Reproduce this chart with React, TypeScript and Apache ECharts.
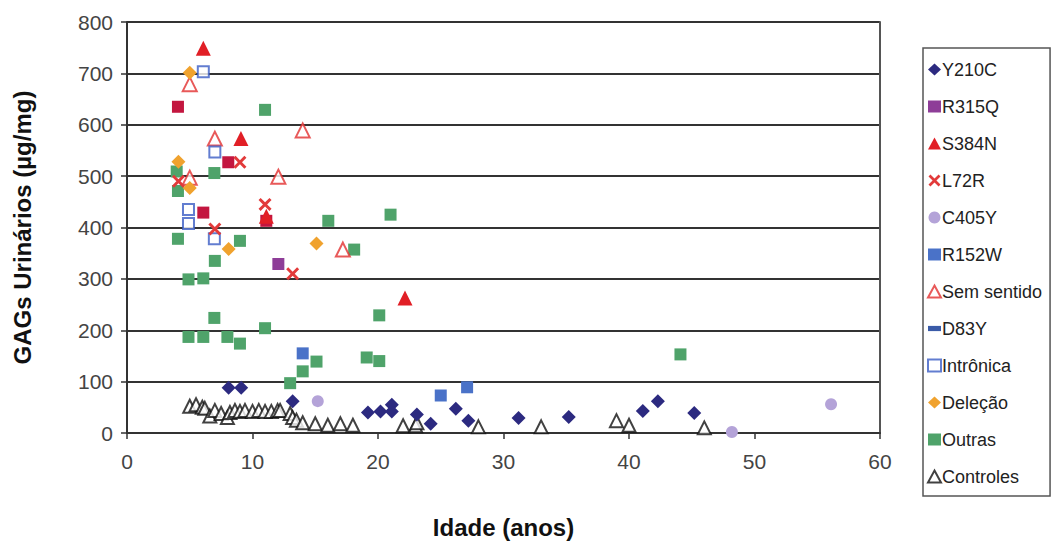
import React, { useEffect, useRef } from "react";
import * as echarts from "echarts";

const xTicks = [0, 10, 20, 30, 40, 50, 60];
const yTicks = [0, 100, 200, 300, 400, 500, 600, 700, 800];

const y210c = [[8.1, 88], [9.1, 88], [13.2, 62], [19.2, 40], [20.2, 42], [21.1, 55], [21.1, 42], [23.1, 36], [24.2, 18], [26.2, 47], [27.2, 24], [31.2, 29], [35.2, 31], [41.1, 43], [42.3, 62], [45.2, 39]];
const r315q = [[12.06, 329]];
const r315qDark = [[4.06, 635], [8.07, 527], [6.08, 429], [11.1, 413]];
const s384n = [[6.08, 749], [9.08, 573], [22.15, 263], [11.1, 422]];
const l72r = [[9.0, 527], [4.1, 490], [11.0, 445], [7.0, 397], [13.2, 310]];
const c405y = [[15.2, 62], [48.2, 2], [56.1, 56]];
const r152w = [[14.0, 155], [25.0, 73], [27.1, 89]];
const semSentido = [[5.0, 679], [14.0, 589], [7.0, 573], [12.06, 499], [5.0, 497], [17.2, 357]];
const d83y: number[][] = [];
const intronica = [[6.08, 703], [7.0, 547], [4.9, 435], [4.9, 408], [6.96, 378]];
const delecao = [[5.0, 701], [4.1, 528], [5.0, 477], [8.1, 358], [15.1, 369]];
const outras = [[11.0, 629], [3.96, 509], [6.96, 506], [4.06, 471], [4.06, 378], [9.0, 374], [16.04, 413], [18.1, 357], [21.0, 425], [7.0, 335], [4.9, 299], [6.08, 301], [6.96, 224], [4.9, 187], [6.08, 187], [8.0, 187], [9.0, 174], [11.0, 204], [13.0, 97], [14.0, 120], [15.1, 139], [19.1, 147], [20.1, 140], [20.1, 229], [44.1, 153]];
const controles = [[5, 52], [5.5, 55], [6, 50], [6.2, 48], [6.6, 33], [7, 44], [7.5, 38], [8, 30], [8.2, 40], [8.6, 44], [9, 42], [9.4, 44], [10, 42], [10.5, 44], [11, 42], [11.5, 42], [12, 44], [12.2, 44], [13, 38], [13.2, 30], [13.5, 25], [14, 20], [15, 18], [16, 15], [17, 18], [18, 15], [22, 14], [23, 14], [23.1, 20], [28, 12], [33, 12], [39, 24], [40, 15], [46, 10]];

const legendNames = ["Y210C", "R315Q", "S384N", "L72R", "C405Y", "R152W", "Sem sentido", "D83Y", "Intrônica", "Deleção", "Outras", "Controles"];

const CROSS = "path://M0,1.6L1.6,0L5,3.4L8.4,0L10,1.6L6.6,5L10,8.4L8.4,10L5,6.6L1.6,10L0,8.4L3.4,5Z";
const DASH = "path://M0,0H10V4H0Z";

export default function App() {
  const ref = useRef<HTMLDivElement>(null);
  useEffect(() => {
    if (!ref.current) return;
    const chart = echarts.init(ref.current, null, { renderer: "svg" });
    const mk = (name: string, data: number[][], symbol: string, size: any, color: string, hollow = false, z = 2) => ({
      name,
      type: "scatter",
      data,
      symbol,
      symbolSize: size,
      z,
      itemStyle: hollow
        ? { color: "#ffffff", borderColor: color, borderWidth: 2 }
        : { color, opacity: 1 },
    });
    chart.setOption({
      animation: false,
      backgroundColor: "#ffffff",
      textStyle: { fontFamily: "Liberation Sans, Arial, sans-serif" },
      grid: { left: 127, top: 22, right: 183, bottom: 106, containLabel: false },
      legend: {
        data: legendNames,
        orient: "vertical",
        left: 923,
        top: 48,
        padding: [12, 8, 10, 4],
        itemGap: 18,
        itemWidth: 13,
        itemHeight: 12,
        borderColor: "#555555",
        borderWidth: 1.5,
        textStyle: { fontSize: 18, color: "#222222", lineHeight: 19, padding: [0, 0, 0, -4] },
      },
      xAxis: {
        type: "value",
        min: 0,
        max: 60,
        interval: 10,
        name: "Idade (anos)",
        nameLocation: "middle",
        nameGap: 82,
        nameTextStyle: { fontSize: 24, fontWeight: "bold", color: "#111111" },
        axisLine: { show: true, onZero: false, lineStyle: { color: "#333333", width: 2 } },
        axisTick: { show: true, length: 6, lineStyle: { color: "#333333", width: 1.5 } },
        axisLabel: { fontSize: 21, color: "#444444", margin: 18 },
        splitLine: { show: false },
      },
      yAxis: [
        {
          type: "value",
          min: 0,
          max: 800,
          interval: 100,
          name: "GAGs Urinários (µg/mg)",
          nameLocation: "middle",
          nameGap: 93,
          nameRotate: 90,
          nameTextStyle: { fontSize: 24, fontWeight: "bold", color: "#111111" },
          axisLine: { show: true, lineStyle: { color: "#333333", width: 2 } },
          axisTick: { show: true, length: 6, lineStyle: { color: "#333333", width: 1.5 } },
          axisLabel: { fontSize: 21, color: "#444444", margin: 14 },
          splitLine: { show: true, lineStyle: { color: "#333333", width: 2 } },
        },
        {
          type: "value",
          min: 0,
          max: 800,
          interval: 100,
          position: "right",
          axisLine: { show: true, lineStyle: { color: "#555555", width: 2 } },
          axisTick: { show: false },
          axisLabel: { show: false },
          splitLine: { show: false },
        },
      ],
      series: [
        mk("Outras", outras, "rect", 12, "#4FA36A", false, 2),
        mk("Controles", controles, "triangle", 13, "#111111", true, 3),
        mk("Y210C", y210c, "diamond", 14, "#2C2A80", false, 4),
        mk("R315Q", r315q, "rect", 12, "#8E3D98", false, 4),
        mk("R315Q-b", r315qDark, "rect", 12, "#C3163F", false, 4),
        mk("S384N", s384n, "triangle", 15, "#E11F26", false, 5),
        mk("L72R", l72r, CROSS, 13, "#E23A3A", false, 6),
        mk("C405Y", c405y, "circle", 12, "#B4A3D8", false, 4),
        mk("R152W", r152w, "rect", 12, "#4A72C8", false, 4),
        mk("Sem sentido", semSentido, "triangle", 14, "#E23030", true, 5),
        mk("D83Y", d83y, DASH, [9, 4], "#3A5BA8", false, 4),
        mk("Intrônica", intronica, "rect", 11, "#3B5CC4", true, 5),
        mk("Deleção", delecao, "diamond", 14, "#F0A22E", false, 5),
      ],
    });
    return () => chart.dispose();
  }, []);
  return (
    <div
      ref={ref}
      style={{ position: "fixed", left: 0, top: 0, width: 1063, height: 544, background: "#fff" }}
    />
  );
}
